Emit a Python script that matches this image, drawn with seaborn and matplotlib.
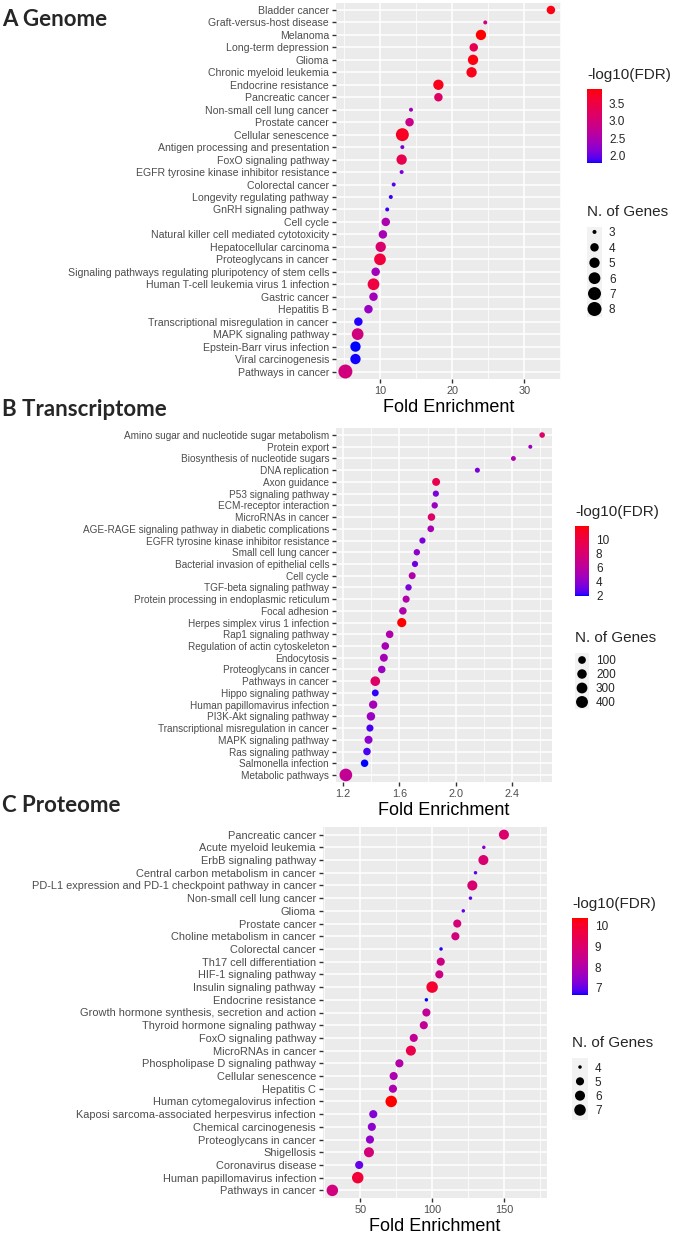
import numpy as np
import pandas as pd
import matplotlib
matplotlib.use("Agg")
import matplotlib.pyplot as plt
import seaborn as sns
from matplotlib.colors import ListedColormap, Normalize
from matplotlib.cm import ScalarMappable
from matplotlib.ticker import MultipleLocator

# ---- A: Genome ----
a_terms = ["Bladder cancer", "Graft-versus-host disease", "Melanoma", "Long-term depression",
           "Glioma", "Chronic myeloid leukemia", "Endocrine resistance", "Pancreatic cancer",
           "Non-small cell lung cancer", "Prostate cancer", "Cellular senescence",
           "Antigen processing and presentation", "FoxO signaling pathway",
           "EGFR tyrosine kinase inhibitor resistance", "Colorectal cancer",
           "Longevity regulating pathway", "GnRH signaling pathway", "Cell cycle",
           "Natural killer cell mediated cytotoxicity", "Hepatocellular carcinoma",
           "Proteoglycans in cancer", "Signaling pathways regulating pluripotency of stem cells",
           "Human T-cell leukemia virus 1 infection", "Gastric cancer", "Hepatitis B",
           "Transcriptional misregulation in cancer", "MAPK signaling pathway",
           "Epstein-Barr virus infection", "Viral carcinogenesis", "Pathways in cancer"]
a_fold = [33.7, 24.6, 24.0, 23.0, 22.9, 22.7, 18.1, 18.1, 14.3, 14.1, 13.1, 13.1, 13.0, 13.0,
          11.9, 11.5, 11.0, 10.8, 10.4, 10.1, 10.0, 9.4, 9.1, 9.1, 8.4, 7.0, 6.9, 6.6, 6.6, 5.2]
a_genes = [4, 3, 5, 4, 5, 5, 5, 4, 3, 4, 7, 3, 5, 3, 3, 3, 3, 4, 4, 5, 6, 4, 6, 4, 4, 4, 6, 5, 5, 8]
a_fdr = [3.85, 2.9, 3.91, 3.35, 3.85, 3.8, 3.8, 3.2, 2.4, 2.85, 3.75, 2.1, 3.4, 2.1, 1.95,
         1.85, 1.85, 2.5, 2.45, 3.1, 3.55, 2.4, 3.5, 2.4, 2.3, 1.82, 2.95, 1.79, 1.8, 2.95]
a_cbar_ticks = [2.0, 2.5, 3.0, 3.5]
a_size_levels = [3, 4, 5, 6, 7, 8]

# ---- B: Transcriptome ----
b_terms = ["Amino sugar and nucleotide sugar metabolism", "Protein export",
           "Biosynthesis of nucleotide sugars", "DNA replication", "Axon guidance",
           "P53 signaling pathway", "ECM-receptor interaction", "MicroRNAs in cancer",
           "AGE-RAGE signaling pathway in diabetic complications",
           "EGFR tyrosine kinase inhibitor resistance", "Small cell lung cancer",
           "Bacterial invasion of epithelial cells", "Cell cycle", "TGF-beta signaling pathway",
           "Protein processing in endoplasmic reticulum", "Focal adhesion",
           "Herpes simplex virus 1 infection", "Rap1 signaling pathway",
           "Regulation of actin cytoskeleton", "Endocytosis", "Proteoglycans in cancer",
           "Pathways in cancer", "Hippo signaling pathway", "Human papillomavirus infection",
           "PI3K-Akt signaling pathway", "Transcriptional misregulation in cancer",
           "MAPK signaling pathway", "Ras signaling pathway", "Salmonella infection",
           "Metabolic pathways"]
b_fold = [2.614, 2.53, 2.41, 2.154, 1.861, 1.859, 1.851, 1.828, 1.823, 1.764, 1.724, 1.711,
          1.691, 1.665, 1.648, 1.625, 1.617, 1.531, 1.50, 1.49, 1.475, 1.429, 1.429, 1.414,
          1.398, 1.391, 1.381, 1.37, 1.353, 1.22]
b_genes = [30, 15, 20, 22, 110, 45, 50, 90, 60, 45, 50, 45, 70, 50, 75, 90, 180, 95, 95, 110,
           90, 210, 65, 130, 140, 75, 115, 92, 90, 480]
b_fdr = [8.5, 4.5, 5.5, 3.5, 9.5, 3.5, 4.5, 8.5, 5.0, 3.5, 4.0, 3.2, 5.5, 3.5, 5.5, 5.5, 12.0,
         5.5, 5.0, 5.0, 4.5, 8.5, 2.2, 5.0, 4.5, 2.5, 4.0, 2.5, 2.0, 6.5]
b_cbar_ticks = [2, 4, 6, 8, 10]
b_size_levels = [100, 200, 300, 400]

# ---- C: Proteome ----
c_terms = ["Pancreatic cancer", "Acute myeloid leukemia", "ErbB signaling pathway",
           "Central carbon metabolism in cancer",
           "PD-L1 expression and PD-1 checkpoint pathway in cancer",
           "Non-small cell lung cancer", "Glioma", "Prostate cancer",
           "Choline metabolism in cancer", "Colorectal cancer", "Th17 cell differentiation",
           "HIF-1 signaling pathway", "Insulin signaling pathway", "Endocrine resistance",
           "Growth hormone synthesis, secretion and action", "Thyroid hormone signaling pathway",
           "FoxO signaling pathway", "MicroRNAs in cancer", "Phospholipase D signaling pathway",
           "Cellular senescence", "Hepatitis C", "Human cytomegalovirus infection",
           "Kaposi sarcoma-associated herpesvirus infection", "Chemical carcinogenesis",
           "Proteoglycans in cancer", "Shigellosis", "Coronavirus disease",
           "Human papillomavirus infection", "Pathways in cancer"]
c_fold = [150.0, 136.0, 135.7, 130.2, 128.0, 126.7, 121.7, 117.5, 116.2, 106.2, 106.0, 105.0,
          100.0, 96.0, 96.0, 94.2, 87.2, 85.2, 77.2, 73.2, 72.7, 71.5, 59.0, 58.0, 56.7, 56.0,
          49.2, 48.2, 30.5]
c_genes = [6, 4, 6, 4, 6, 4, 4, 5, 5, 4, 5, 5, 7, 4, 5, 5, 5, 6, 5, 5, 5, 7, 5, 5, 5, 6, 5, 7, 7]
c_fdr = [9.0, 7.3, 8.9, 7.0, 8.9, 7.0, 7.0, 8.8, 8.7, 6.7, 8.6, 8.6, 9.9, 6.65, 8.3, 8.3, 8.3,
         9.5, 8.0, 7.9, 7.9, 10.37, 7.3, 7.4, 7.5, 8.8, 7.0, 9.8, 8.7]
c_cbar_ticks = [7, 8, 9, 10]
c_size_levels = [4, 5, 6, 7]

W, H = 685, 1238

sns.set_style("darkgrid", {"axes.facecolor": "#EBEBEB", "grid.color": "white"})
plt.rcParams["font.family"] = ["Liberation Sans", "DejaVu Sans"]

M = np.array([[0.4124, 0.3576, 0.1805], [0.2126, 0.7152, 0.0722], [0.0193, 0.1192, 0.9505]])
WHITE = np.array([0.95047, 1.0, 1.08883])


def to_lab(rgb):
    rgb = np.asarray(rgb, float)
    lin = np.where(rgb <= 0.04045, rgb / 12.92, ((rgb + 0.055) / 1.055) ** 2.4)
    xyz = M @ lin / WHITE
    f = np.where(xyz > 0.008856, np.cbrt(xyz), 7.787 * xyz + 16 / 116)
    return np.array([116 * f[1] - 16, 500 * (f[0] - f[1]), 200 * (f[1] - f[2])])


def from_lab(lab):
    fy = (lab[0] + 16) / 116
    f = np.array([fy + lab[1] / 500, fy, fy - lab[2] / 200])
    xyz = np.where(f ** 3 > 0.008856, f ** 3, (f - 16 / 116) / 7.787) * WHITE
    lin = np.clip(np.linalg.inv(M) @ xyz, 0, 1)
    return np.clip(np.where(lin <= 0.0031308, 12.92 * lin, 1.055 * lin ** (1 / 2.4) - 0.055), 0, 1)


# ggplot-like blue -> red gradient (interpolated in Lab)
lab0, lab1 = to_lab([0, 0, 1]), to_lab([1, 0, 0])
cmap = ListedColormap([from_lab(lab0 + t * (lab1 - lab0)) for t in np.linspace(0, 1, 256)])


def rect(x0, y0, x1, y1):
    return [x0 / W, 1 - y1 / H, (x1 - x0) / W, (y1 - y0) / H]


def size_lookup(values, lo, hi, d_range):
    # area scale like ggplot: diameter grows with sqrt of rescaled value
    out = {}
    for v in values:
        d = d_range[0] + (d_range[1] - d_range[0]) * np.sqrt((v - lo) / (hi - lo))
        out[v] = (d * 0.72) ** 2
    return out


fig = plt.figure(figsize=(W / 100, H / 100), dpi=100)


def draw(terms, fold, genes, fdr, box, xlim, major, minor, d_range,
         cbar_ticks, size_levels, cbox, sbox, slim, title, ty, ysize):
    ax = fig.add_axes(rect(*box))
    df = pd.DataFrame({"term": terms, "fold": fold, "genes": genes, "fdr": fdr})
    lo, hi = min(fdr), max(fdr)
    smap = size_lookup(sorted(set(genes) | set(size_levels)), min(genes), max(genes), d_range)
    sns.scatterplot(data=df, x="fold", y="term", hue="fdr", size="genes", palette=cmap,
                    hue_norm=(lo, hi), sizes=smap, linewidth=0, legend=False, ax=ax, zorder=3)
    n = len(terms)
    ax.set_ylim(n - 0.4, -0.6)
    ax.set_xlim(*xlim)
    ax.xaxis.set_major_locator(MultipleLocator(major))
    ax.xaxis.set_minor_locator(MultipleLocator(minor))
    ax.grid(which="major", color="white", lw=1.1)
    ax.grid(which="minor", axis="x", color="white", lw=0.55)
    for s in ax.spines.values():
        s.set_visible(False)
    ax.tick_params(axis="both", which="major", length=3, width=1, color="#333333",
                   left=True, bottom=True, labelcolor="#4D4D4D", pad=2)
    ax.tick_params(axis="y", labelsize=ysize)
    ax.tick_params(axis="x", labelsize=7.8)
    ax.tick_params(which="minor", length=0)
    ax.set_ylabel("")
    ax.set_xlabel("Fold Enrichment", fontsize=13, color="black", labelpad=2.5)

    fig.text(2 / W, 1 - ty / H, title, fontsize=16, fontweight="bold",
             family=["Lato", "DejaVu Sans"], va="center", ha="left")

    # colour legend
    cax = fig.add_axes(rect(*cbox))
    cb = fig.colorbar(ScalarMappable(norm=Normalize(lo, hi), cmap=cmap), cax=cax, ticks=cbar_ticks)
    cb.outline.set_visible(False)
    cax.tick_params(length=3, width=0.8, color="white", direction="in", left=True, right=True,
                    labelsize=8.5, pad=5)
    cb.set_ticklabels([("%.1f" % t) if isinstance(t, float) else str(t) for t in cbar_ticks])
    fig.text(cbox[0] / W, 1 - (cbox[1] - 14) / H, "-log10(FDR)", fontsize=11, va="center")

    # size legend
    sax = fig.add_axes(rect(*sbox))
    sax.set_facecolor("#F2F2F2")
    sns.scatterplot(x=[0] * len(size_levels), y=size_levels, size=size_levels, sizes=smap,
                    color="black", linewidth=0, legend=False, ax=sax)
    sax.set_xlim(-1, 1)
    sax.set_ylim(*slim)
    sax.grid(False)
    for s in sax.spines.values():
        s.set_visible(False)
    sax.set_xticks([])
    sax.yaxis.tick_right()
    sax.set_yticks(size_levels)
    sax.tick_params(axis="y", length=0, labelsize=8.5, pad=5)
    fig.text(sbox[0] / W, 1 - (sbox[1] - 15) / H, "N. of Genes", fontsize=11, va="center")


draw(a_terms, a_fold, a_genes, a_fdr, (336, 2.5, 561, 379), (3.9, 35.1), 10, 5, (4, 14),
     a_cbar_ticks, a_size_levels, (587, 89, 602, 163), (587, 227, 602, 317), (8.52, 2.68),
     "A Genome", 20, 7.55)
draw(b_terms, b_fold, b_genes, b_fdr, (336, 428, 552, 782), (1.15, 2.684), 0.4, 0.2, (4, 12.7),
     b_cbar_ticks, b_size_levels, (575, 526, 589, 596), (575, 653, 589, 709), (450, 50),
     "B Transcriptome", 409, 7.2)
draw(c_terms, c_fold, c_genes, c_fdr, (323, 827, 547, 1198), (24, 180), 50, 25, (3.5, 11.5),
     c_cbar_ticks, c_size_levels, (572, 918, 588, 995), (572, 1058, 588, 1120), (7.7, 3.37),
     "C Proteome", 805, 7.9)

fig.savefig("out.png", dpi=100, facecolor="white")
